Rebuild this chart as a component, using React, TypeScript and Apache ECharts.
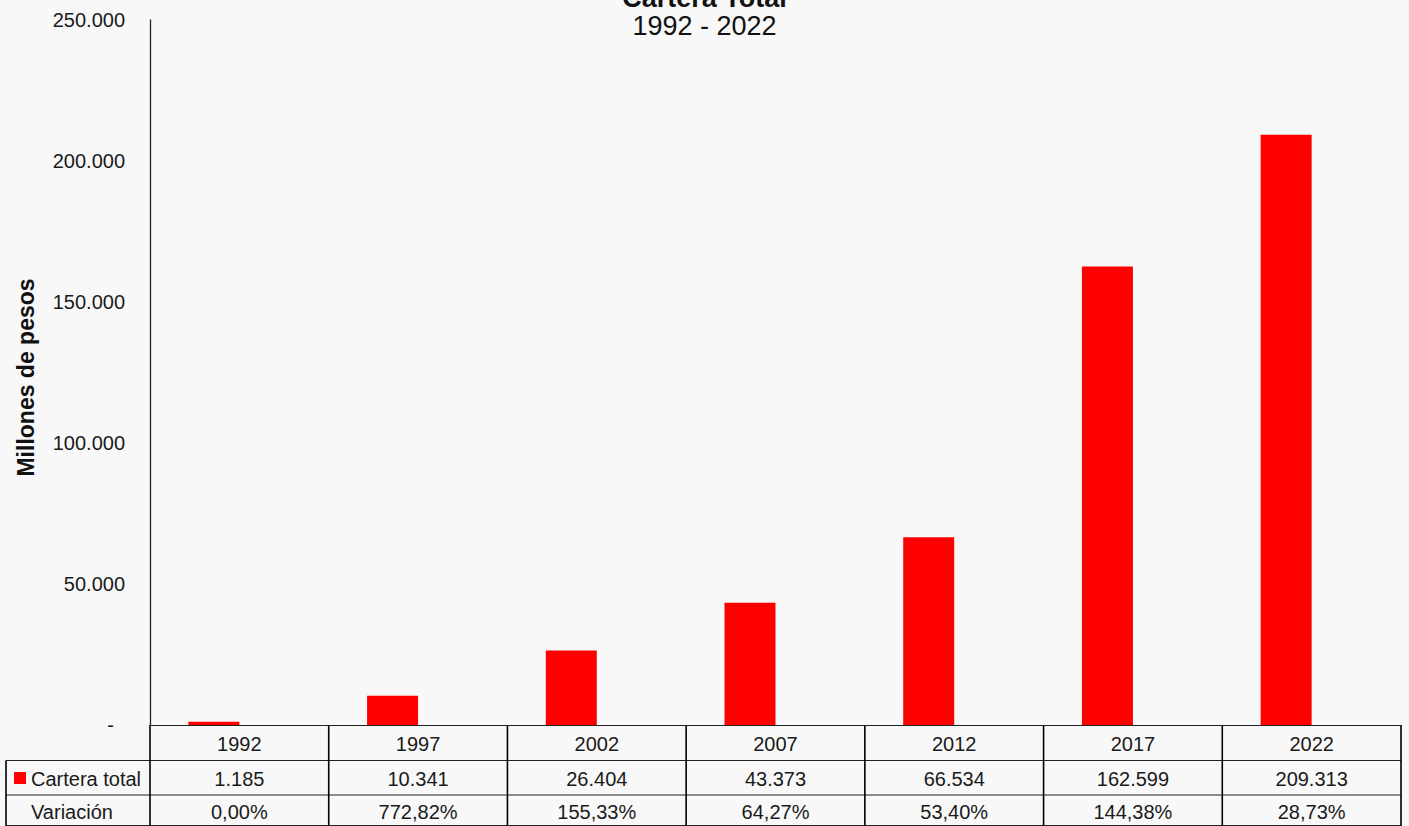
import React, { useEffect, useRef } from "react";
import * as echarts from "echarts";

const categories = ["1992", "1997", "2002", "2007", "2012", "2017", "2022"];
const carteraTotal = [1185, 10341, 26404, 43373, 66534, 162599, 209313];
const variacionPct = [0.0, 772.82, 155.33, 64.27, 53.4, 144.38, 28.73];
const rowLabels = ["Cartera total", "Variación"];
const titleText = "Cartera Total";
const subtitleText = "1992 - 2022";
const yAxisName = "Millones de pesos";

const FONT = "'Liberation Sans', Arial, Helvetica, sans-serif";
const fmt = (n: number) => String(n).replace(/\B(?=(\d{3})+(?!\d))/g, ".");
const fmtPct = (p: number) => p.toFixed(2).replace(".", ",") + "%";

export default function App() {
  const ref = useRef<HTMLDivElement>(null);
  useEffect(() => {
    document.body.style.margin = "0";
    const chart = echarts.init(ref.current!, null, { renderer: "svg" });
    const gridLeft = 150;
    const gridRight = 8;
    const gridTop = 20;
    const gridBottom = 101;
    chart.setOption({
      animation: false,
      backgroundColor: "#f8f8f8",
      textStyle: { fontFamily: FONT },
      title: {
        text: titleText,
        subtext: subtitleText,
        left: "center",
        top: -21,
        itemGap: 1,
        textStyle: { fontFamily: FONT, fontSize: 27, fontWeight: "bold", color: "#111" },
        subtextStyle: { fontFamily: FONT, fontSize: 27, color: "#111" },
      },
      grid: { left: gridLeft, right: gridRight, top: gridTop, bottom: gridBottom, containLabel: false },
      xAxis: {
        type: "category",
        data: categories,
        axisLine: { show: true, lineStyle: { color: "#222", width: 1 } },
        axisTick: { show: false },
        axisLabel: { show: false },
      },
      yAxis: {
        type: "value",
        min: 0,
        max: 250000,
        interval: 50000,
        name: yAxisName,
        nameLocation: "middle",
        nameGap: 113,
        nameTextStyle: { fontFamily: FONT, fontSize: 23, fontWeight: "bold", color: "#111", padding: [0, 10, 0, 0] },
        axisLine: { show: true, lineStyle: { color: "#222", width: 1.3 } },
        axisTick: { show: false },
        splitLine: { show: false },
        axisLabel: {
          margin: 25,
          fontSize: 20,
          color: "#1a1a1a",
          fontFamily: FONT,
          formatter: (v: number) => (v === 0 ? "-  " : fmt(v)),
        },
      },
      series: [
        {
          type: "bar",
          name: rowLabels[0],
          data: carteraTotal,
          barWidth: 51,
          barGap: "0%",
          itemStyle: { color: "#ff0000" },
        },
        {
          type: "bar",
          name: rowLabels[1],
          data: variacionPct.map((p) => p / 100),
          barWidth: 51,
          barGap: "0%",
          itemStyle: { color: "rgba(0,0,0,0)" },
        },
      ],
    });

    const H = chart.getHeight();
    const y0 = H - gridBottom;
    const rows = [y0, 760.5, 795, 826];
    const xs = categories.map((_, i) => chart.convertToPixel({ xAxisIndex: 0 }, i) as number);
    const colW = xs.length > 1 ? xs[1] - xs[0] : 178;
    const bounds = [xs[0] - colW / 2, ...xs.map((x) => x + colW / 2)];
    const leftX = 6;
    const right = bounds[bounds.length - 1];
    const hStyle = { stroke: "#222", lineWidth: 1 };
    const vStyle = { stroke: "#000", lineWidth: 1.6 };
    const els: any[] = [];
    [rows[1], rows[2], rows[3] - 0.5].forEach((y) => {
      els.push({ type: "line", shape: { x1: leftX, y1: y, x2: right, y2: y }, style: hStyle, silent: true });
    });
    bounds.forEach((bx) => {
      els.push({ type: "line", shape: { x1: bx, y1: y0, x2: bx, y2: rows[3] }, style: vStyle, silent: true });
    });
    els.push({ type: "line", shape: { x1: leftX, y1: rows[1], x2: leftX, y2: rows[3] }, style: vStyle, silent: true });
    const txt = (x: number, y: number, text: string, align = "center") => ({
      type: "text",
      x,
      y,
      style: { text, fontSize: 20, fontFamily: FONT, fill: "#1a1a1a", align, verticalAlign: "middle" },
      silent: true,
    });
    categories.forEach((c, i) => {
      els.push(txt(xs[i], (rows[0] + rows[1]) / 2 + 1, c));
      els.push(txt(xs[i], (rows[1] + rows[2]) / 2 + 1, fmt(carteraTotal[i])));
      els.push(txt(xs[i], (rows[2] + rows[3]) / 2 + 1, fmtPct(variacionPct[i])));
    });
    els.push({ type: "rect", shape: { x: 14, y: 772, width: 12, height: 12 }, style: { fill: "#ff0000" }, silent: true });
    els.push(txt(31, (rows[1] + rows[2]) / 2 + 1, rowLabels[0], "left"));
    els.push(txt(31, (rows[2] + rows[3]) / 2 + 1, rowLabels[1], "left"));
    chart.setOption({ graphic: { elements: els } });

    return () => chart.dispose();
  }, []);
  return <div ref={ref} style={{ position: "absolute", left: 0, top: 0, width: 1409, height: 826 }} />;
}
